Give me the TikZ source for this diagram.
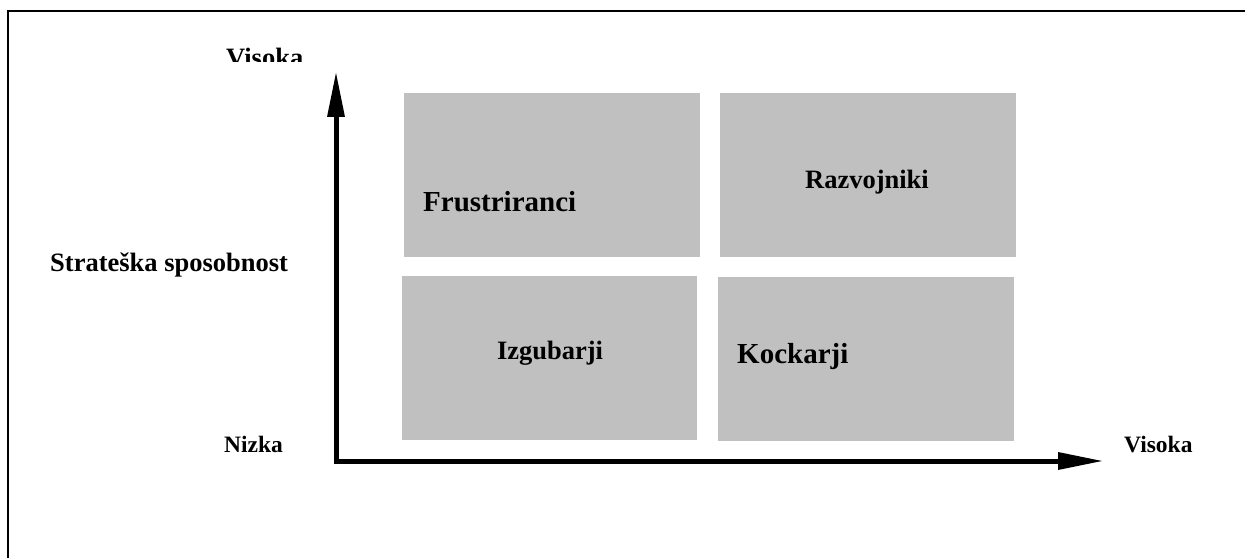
\documentclass[tikz,border=0pt]{standalone}
\usepackage{fontspec}
\setmainfont{Liberation Serif}
\usepackage{tikz}
\usetikzlibrary{arrows.meta}

\definecolor{boxgray}{RGB}{192,192,192}

\begin{document}
\begin{tikzpicture}[x=1pt,y=1pt,
        quad/.style={fill=boxgray,minimum width=296pt,minimum height=164pt,inner sep=0pt},
        big/.style={inner sep=0pt,font=\bfseries\fontsize{29}{32}\selectfont},
        mid/.style={inner sep=0pt,font=\bfseries\fontsize{26.5}{30}\selectfont},
        small/.style={inner sep=0pt,font=\bfseries\fontsize{23.5}{27}\selectfont},
        axis/.style={line width=5pt,{Triangle[length=44pt,width=18pt,line width=0pt]}-{Triangle[length=44pt,width=18pt,line width=0pt]}}]
        \useasboundingbox (0,0) rectangle (1245,558);
        \draw[line width=2pt] (8,0) -- (8,547) -- (1245,547);
        % the four fields
        \node[quad] (fru) at (552,383) {};
        \node[quad] (raz) at (868,383) {};
        \node[quad,minimum width=295pt] (izg) at (549.5,200) {};
        \node[quad] (koc) at (866,199.5) {};
        \node[big,anchor=base west] at (423,346) {Frustriranci};
        \node[mid,anchor=base] at (867,370) {Razvojniki};
        \node[mid,anchor=base] at (550,199) {Izgubarji};
        \node[big,anchor=base west] at (737,195) {Kockarji};
        % axes
        \coordinate (o) at (336,97);
        \coordinate (ytip) at (336,485);
        \coordinate (xtip) at (1102,97);
        \draw[axis] (ytip) -- (o) -- (xtip);
        \node[mid,anchor=base west] (ylab) at (50,287) {Strateška sposobnost};
        \node[small,anchor=base west] (ylow) at (224,106) {Nizka};
        \node[small,anchor=base west] (xhigh) at (1124,106) {Visoka};
        \begin{scope}
            \clip (0,496) rectangle (1245,558);
            \node[mid,anchor=base west] (yhigh) at (226,491.5) {Visoka};
        \end{scope}
    \end{tikzpicture}
\end{document}
